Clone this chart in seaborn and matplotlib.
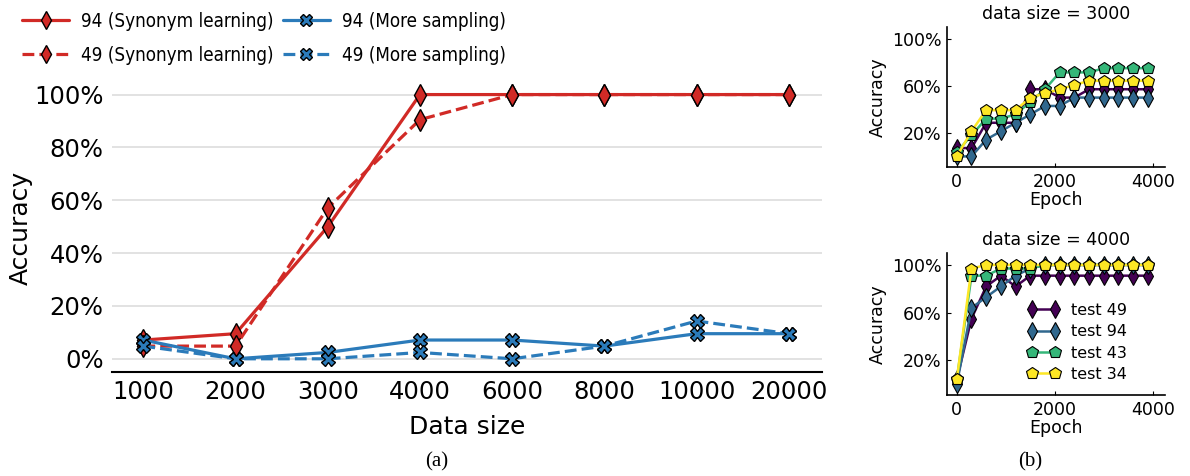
import matplotlib
matplotlib.use("Agg")
import matplotlib.pyplot as plt
from matplotlib.font_manager import FontProperties
import seaborn as sns
import pandas as pd

sns.set_style("white")
plt.rcParams['font.family'] = ['DejaVu Sans']
plt.rcParams.update({"text.color": "black", "axes.labelcolor": "black",
                     "xtick.color": "black", "ytick.color": "black"})

# ---- main panel: accuracy vs. training data size ----
data_sizes = ["1000", "2000", "3000", "4000", "6000", "8000", "10000", "20000"]
syn_94 = [7.1, 9.5, 50.0, 100.0, 100.0, 100.0, 100.0, 100.0]
syn_49 = [4.8, 4.8, 57.1, 90.5, 100.0, 100.0, 100.0, 100.0]
samp_94 = [7.1, 0.0, 2.4, 7.1, 7.1, 4.8, 9.5, 9.5]
samp_49 = [4.8, 0.0, 0.0, 2.4, 0.0, 4.8, 14.3, 9.5]

# ---- side panels: accuracy vs. epoch ----
epochs = [0, 300, 600, 900, 1200, 1500, 1800, 2100, 2400, 2700, 3000, 3300, 3600, 3900]
ds3000_test49 = [7.1, 7.1, 28.6, 28.6, 28.6, 57.1, 57.1, 50.0, 50.0, 57.1, 57.1, 57.1, 57.1, 57.1]
ds3000_test94 = [0.0, 0.0, 14.3, 21.4, 28.6, 35.7, 42.9, 42.9, 50.0, 50.0, 50.0, 50.0, 50.0, 50.0]
ds3000_test43 = [3.6, 17.9, 32.1, 32.1, 35.7, 46.4, 57.1, 71.4, 71.4, 71.4, 75.0, 75.0, 75.0, 75.0]
ds3000_test34 = [0.0, 21.4, 39.3, 39.3, 39.3, 50.0, 53.6, 57.1, 60.7, 64.3, 64.3, 64.3, 64.3, 64.3]

ds4000_test49 = [4.0, 55.0, 82.0, 91.0, 82.0, 91.0, 91.0, 91.0, 91.0, 91.0, 91.0, 91.0, 91.0, 91.0]
ds4000_test94 = [0.0, 64.0, 73.0, 82.0, 91.0, 97.0, 100.0, 100.0, 100.0, 100.0, 100.0, 100.0, 100.0, 100.0]
ds4000_test43 = [4.0, 91.0, 91.0, 97.0, 97.0, 97.0, 100.0, 100.0, 100.0, 100.0, 100.0, 100.0, 100.0, 100.0]
ds4000_test34 = [4.0, 97.0, 100.0, 100.0, 100.0, 100.0, 100.0, 100.0, 100.0, 100.0, 100.0, 100.0, 100.0, 100.0]

test_labels = ["test 49", "test 94", "test 43", "test 34"]
test_markers = ["d", "d", "p", "p"]
viridis4 = ["#440154", "#31688e", "#35b779", "#fde725"]

RED = "#d12a26"
BLUE = "#2b7bba"

W, H = 1190, 476
fig = plt.figure(figsize=(11.9, 4.76), dpi=100)
ax = fig.add_axes([112 / W, 1 - 372 / H, 710 / W, 288 / H])

pos = list(range(len(data_sizes)))
main_series = [
    ("94 (Synonym learning)", syn_94, RED, "-", "d", 11),
    ("49 (Synonym learning)", syn_49, RED, "--", "d", 11),
    ("94 (More sampling)", samp_94, BLUE, "-", "X", 10),
    ("49 (More sampling)", samp_49, BLUE, "--", "X", 10),
]
for label, vals, color, ls, mk, ms in main_series:
    df = pd.DataFrame({"pos": pos, "acc": [v / 100 for v in vals]})
    sns.lineplot(data=df, x="pos", y="acc", ax=ax, color=color, linestyle=ls,
                 linewidth=2.3, marker=mk, markersize=ms, markeredgecolor="black",
                 markeredgewidth=1.0, label=label, legend=False)

ax.set_xlim(-0.34, 7.36)
ax.set_ylim(-0.05, 1.04)
ax.set_xticks(pos)
ax.set_xticklabels(data_sizes)
ax.set_yticks([0, 0.2, 0.4, 0.6, 0.8, 1.0])
ax.set_yticklabels(["0%", "20%", "40%", "60%", "80%", "100%"])
ax.tick_params(axis="both", length=0, labelsize=17.5, pad=6)
ax.yaxis.grid(True, color="#dddddd", linewidth=1.2)
ax.set_axisbelow(True)
for side in ["left", "right", "top"]:
    ax.spines[side].set_visible(False)
ax.spines["bottom"].set_color("black")
ax.spines["bottom"].set_linewidth(1.5)
ax.set_xlabel("Data size", fontsize=18, labelpad=8)
ax.set_ylabel("Accuracy", fontsize=18)
ax.yaxis.set_label_coords((33 - 112) / 710, 0.5)

legend_font = FontProperties(family="DejaVu Sans", stretch="condensed", size=13.5)
handles, labels = ax.get_legend_handles_labels()
fig.legend(handles, labels, loc="upper left", bbox_to_anchor=(0.004, 1.011), ncol=2,
           frameon=False, prop=legend_font, handlelength=2.55, markerscale=0.8,
           columnspacing=0.5, labelspacing=0.82, numpoints=1, handletextpad=0.6)


def epoch_panel(rect, title, series, show_legend):
    sub = fig.add_axes(rect)
    for vals, lab, mk, col in zip(series, test_labels, test_markers, viridis4):
        df = pd.DataFrame({"epoch": epochs, "acc": [v / 100 for v in vals]})
        sns.lineplot(data=df, x="epoch", y="acc", ax=sub, color=col, linewidth=1.8,
                     marker=mk, markersize=9, markeredgecolor="black",
                     markeredgewidth=0.8, label=lab, legend=False)
    sub.set_xlim(-200, 4250)
    sub.set_ylim(-0.09, 1.1)
    sub.set_xticks([0, 2000, 4000])
    sub.set_yticks([0.2, 0.6, 1.0])
    sub.set_yticklabels(["20%", "60%", "100%"])
    sub.tick_params(axis="both", direction="in", length=3, width=0.8,
                    labelsize=12.5, pad=4, left=True, bottom=True)
    for side in ["right", "top"]:
        sub.spines[side].set_visible(False)
    for side in ["left", "bottom"]:
        sub.spines[side].set_color("black")
        sub.spines[side].set_linewidth(1.2)
    sub.set_xlabel("Epoch", fontsize=12.5, labelpad=0)
    sub.set_ylabel("Accuracy", fontsize=12.5)
    sub.yaxis.set_label_coords((887 - 947) / 218, 0.5)
    sub.set_title(title, fontsize=12.5, pad=6)
    if show_legend:
        sub.legend(loc="upper left", bbox_to_anchor=(0.30, 0.75), frameon=False,
                   fontsize=11.5, numpoints=2, handlelength=2.05,
                   labelspacing=0.4, handletextpad=0.7)
    return sub


epoch_panel([947 / W, 1 - 167 / H, 218 / W, 140 / H], "data size = 3000",
            [ds3000_test49, ds3000_test94, ds3000_test43, ds3000_test34], False)
epoch_panel([947 / W, 1 - 395 / H, 218 / W, 142 / H], "data size = 4000",
            [ds4000_test49, ds4000_test94, ds4000_test43, ds4000_test34], True)

fig.text(437 / W, 1 - 462 / H, "(a)", fontsize=15, family="Liberation Serif",
         ha="center", va="center")
fig.text(1030 / W, 1 - 462 / H, "(b)", fontsize=15, family="Liberation Serif",
         ha="center", va="center")

fig.savefig("out.png", dpi=100)
